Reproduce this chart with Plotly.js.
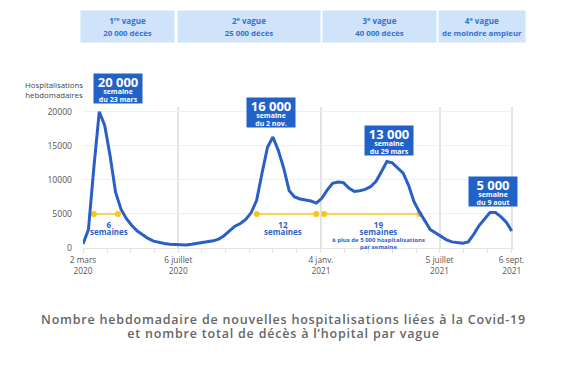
<!DOCTYPE html>
<html>
<head>
<meta charset="utf-8">
<script src="https://cdn.plot.ly/plotly-3.0.1.min.js"></script>
<style>html,body{margin:0;padding:0;background:#fff;}#chart{width:563px;height:369px;}</style>
</head>
<body>
<div id="chart"></div>
<script>
// Weekly data (Monday of each week)
const weeks = [
 '2020-03-02','2020-03-09','2020-03-16','2020-03-23','2020-03-30','2020-04-06','2020-04-13','2020-04-20','2020-04-27',
 '2020-05-04','2020-05-11','2020-05-18','2020-05-25','2020-06-01','2020-06-08','2020-06-15','2020-06-22','2020-06-29',
 '2020-07-06','2020-07-13','2020-07-20','2020-07-27','2020-08-03','2020-08-10','2020-08-17','2020-08-24','2020-08-31',
 '2020-09-07','2020-09-14','2020-09-21','2020-09-28','2020-10-05','2020-10-12','2020-10-19','2020-10-26','2020-11-02',
 '2020-11-09','2020-11-16','2020-11-23','2020-11-30','2020-12-07','2020-12-14','2020-12-21','2020-12-28','2021-01-04',
 '2021-01-11','2021-01-18','2021-01-25','2021-02-01','2021-02-08','2021-02-15','2021-02-22','2021-03-01','2021-03-08',
 '2021-03-15','2021-03-22','2021-03-29','2021-04-05','2021-04-12','2021-04-19','2021-04-26','2021-05-03','2021-05-10',
 '2021-05-17','2021-05-24','2021-05-31','2021-06-07','2021-06-14','2021-06-21','2021-06-28','2021-07-05','2021-07-12',
 '2021-07-19','2021-07-26','2021-08-02','2021-08-09','2021-08-16','2021-08-23','2021-08-30','2021-09-06'
];
const hospitalisations = [
 600, 2700, 11800, 20000, 18000, 13500, 8200, 5700, 4300,
 3300, 2500, 1900, 1400, 1000, 800, 650, 550, 500,
 450, 450, 550, 650, 780, 900, 1050, 1300, 1800,
 2500, 3200, 3600, 4200, 5200, 7000, 11000, 14800, 16300,
 14300, 11700, 8400, 7500, 7200, 7050, 6900, 6600, 7300,
 8500, 9500, 9700, 9600, 8800, 8300, 8400, 8600, 9000,
 9800, 11200, 12700, 12500, 11800, 11000, 9200, 6800, 5300,
 3900, 2700, 2200, 1700, 1200, 900, 750, 700, 900,
 2000, 3300, 4300, 5200, 5200, 4600, 3800, 2500
];

// Axis ticks
const majorTickDates = ['2020-03-02','2020-07-03','2021-01-03','2021-06-05','2021-09-06'];
const majorTickLabels = ['2 mars<br>2020','6 juillet<br>2020','4 janv.<br>2021','5 juillet<br>2021','6 sept.<br>2021'];
const minorTickDates = ['2020-03-02','2020-04-02','2020-05-02','2020-06-02','2020-07-03','2020-08-02','2020-09-02',
 '2020-10-03','2020-11-02','2020-12-03','2021-01-03','2021-02-02','2021-03-05','2021-04-05','2021-05-06',
 '2021-06-05','2021-07-06','2021-08-06','2021-09-06'];
const yTickVals = [0, 5000, 10000, 15000, 20000];
const yTickLabels = ['0','5000','10000','15000','20000'];

// Waves header
const waveCenters = ['2020-04-29','2020-10-02','2021-03-19','2021-07-30'];
const waveTitles = ['1<sup>re</sup> vague','2<sup>e</sup> vague','3<sup>e</sup> vague','4<sup>e</sup> vague'];
const waveDeaths = ['20 000 décès','25 000 décès','40 000 décès','de moindre ampleur'];
const waveWidths = [93, 142, 113, 86];

// Peaks
const peakWeeks = ['2020-03-23','2020-11-02','2021-03-29','2021-08-09'];
const peakLabels = ['20 000','16 000','13 000','5 000'];
const peakSub = ['du 23 mars','du 2 nov.','du 29 mars','du 9 aout'];

// Durations above 5000
const durStart = ['2020-03-16','2020-10-12','2021-01-07'];
const durEnd = ['2020-04-16','2020-12-28','2021-05-10'];
const durLevel = 5000;
const durLabelX = ['2020-04-05','2020-11-15','2021-03-18'];
const durLabels = [
 '<span style="font-size:8px"><b>6</b></span><br><span style="font-size:8px"><b>semaines</b></span>',
 '<span style="font-size:8px"><b>12</b></span><br><span style="font-size:8px"><b>semaines</b></span>',
 '<span style="font-size:8px"><b>19</b></span><br><span style="font-size:8px"><b>semaines</b></span><br><span style="font-size:6px"><b>à plus de 5 000 hospitalisations</b></span><br><span style="font-size:6px"><b>par semaine</b></span>'
];

const BLUE = '#2a5fc8';
const BOX = '#2162c8';
const YELLOW = '#f7c61c';
const FONT = 'Open Sans, sans-serif';

const traces = [];
for (let i = 0; i < durStart.length; i++) {
  traces.push({
    x: [durStart[i], durEnd[i]], y: [durLevel, durLevel],
    mode: 'lines+markers', type: 'scatter',
    line: {color: YELLOW, width: 1.5},
    marker: {color: YELLOW, size: 6},
    hoverinfo: 'skip', showlegend: false, cliponaxis: false
  });
}
traces.push({
  x: weeks, y: hospitalisations, type: 'scatter', mode: 'lines',
  line: {color: BLUE, width: 3},
  showlegend: false, cliponaxis: false
});

const annotations = [];
// y title
annotations.push({
  xref: 'paper', yref: 'paper', x: -0.0684, y: 1.12, xanchor: 'center', yanchor: 'middle',
  text: 'Hospitalisations<br>hebdomadaires', showarrow: false, align: 'center',
  font: {family: FONT, size: 7.8, color: '#444'}
});
// wave header boxes
for (let i = 0; i < waveCenters.length; i++) {
  annotations.push({
    xref: 'x', yref: 'paper', x: waveCenters[i], y: 1.572, xanchor: 'center', yanchor: 'middle',
    width: waveWidths[i], height: 31, borderpad: 0, bgcolor: '#cfe3fa', showarrow: false,
    text: '<span style="font-size:8px"><b>' + waveTitles[i] + '</b></span><br><span style="font-size:7.8px"><b>' + waveDeaths[i] + '</b></span>',
    font: {family: FONT, size: 9.6, color: '#3570d3'}
  });
}
// peak boxes
const peakShiftX = [18.7, -2, 2, 3];
const peakShiftY = [23.2, 24, 21, 21];
const peakW = [48, 48, 48, 48];
for (let i = 0; i < peakWeeks.length; i++) {
  const idx = weeks.indexOf(peakWeeks[i]);
  annotations.push({
    xref: 'x', yref: 'y', x: weeks[idx], y: hospitalisations[idx], xanchor: 'center', yanchor: 'middle',
    xshift: peakShiftX[i], yshift: peakShiftY[i], width: peakW[i], height: 29, borderpad: 0,
    bgcolor: BOX, showarrow: false,
    text: '<span style="font-size:13px"><b>' + peakLabels[i] + '</b></span><br><span style="font-size:7px"><b>semaine</b></span><br><span style="font-size:7px"><b>' + peakSub[i] + '</b></span>',
    font: {family: FONT, size: 5.8, color: '#ffffff'}
  });
}
// duration labels
for (let i = 0; i < durLabelX.length; i++) {
  annotations.push({
    xref: 'x', yref: 'y', x: durLabelX[i], y: durLevel, xanchor: 'center', yanchor: 'top',
    yshift: -3, showarrow: false, text: durLabels[i], align: 'center',
    font: {family: FONT, size: 5.5, color: '#2f62c6'}
  });
}

const TS = 'font-size:12.5px;letter-spacing:0.8px';
const layout = {
  width: 563, height: 369,
  margin: {l: 83, r: 49, t: 107, b: 121},
  paper_bgcolor: '#ffffff', plot_bgcolor: '#ffffff',
  font: {family: FONT},
  title: {
    text: '<span style="' + TS + '">Nombre hebdomadaire de nouvelles hospitalisations liées à la Covid-19</span><br><span style="' + TS + '">et nombre total de décès à l’hopital par vague</span>',
    x: 0.5036, xanchor: 'center', xref: 'container', y: 0.122, yanchor: 'middle', yref: 'container',
    font: {family: FONT, size: 11, color: '#666666', weight: 600}
  },
  xaxis: {
    type: 'date', range: ['2020-03-02', '2021-09-09'],
    tickmode: 'array', tickvals: majorTickDates, ticktext: majorTickLabels,
    showgrid: true, gridcolor: '#e3e3e3', gridwidth: 2,
    ticks: 'outside', ticklen: 4, tickcolor: '#e0e0e0',
    showline: true, linecolor: '#e3e3e3', linewidth: 1,
    minor: {tickmode: 'array', tickvals: minorTickDates, ticks: 'outside', ticklen: 4, tickcolor: '#e0e0e0', showgrid: false},
    tickfont: {family: FONT, size: 8.3, color: '#555'},
    zeroline: false, fixedrange: true
  },
  yaxis: {
    range: [0, 20700], tickmode: 'array', tickvals: yTickVals, ticktext: yTickLabels,
    showgrid: true, gridcolor: '#efefef', gridwidth: 1,
    ticks: '', ticklabelstandoff: 10, zeroline: false, showline: false,
    tickfont: {family: FONT, size: 8.6, color: '#555'}, fixedrange: true
  },
  annotations: annotations,
  showlegend: false
};

Plotly.newPlot('chart', traces, layout, {displayModeBar: false, staticPlot: true});
</script>
</body>
</html>
